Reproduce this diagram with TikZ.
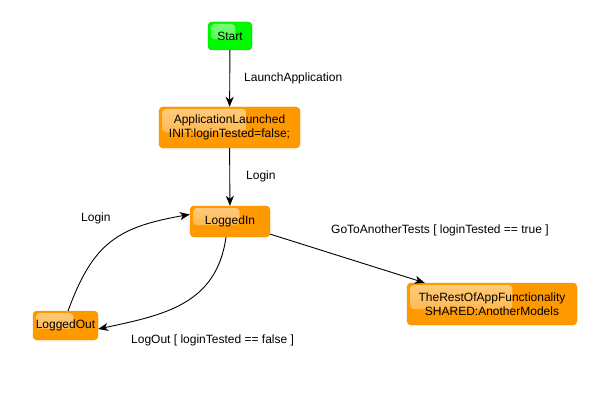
\documentclass[tikz,border=0pt]{standalone}
\usepackage{fontspec}
\setmainfont{Liberation Sans}
\usetikzlibrary{arrows.meta,calc,positioning}
\definecolor{stateorange}{RGB}{255,153,0}
\definecolor{startgreen}{RGB}{0,250,0}
\begin{document}
\begin{tikzpicture}[x=1pt,y=1pt,
state/.style={rounded corners=4pt,fill=stateorange,draw=stateorange!90!black,line width=.4pt,
  align=center,inner sep=0pt,font=\fontsize{12}{14}\selectfont,
  path picture={\shade[top color=white!50!#1,bottom color=white!20!#1,rounded corners=4pt]
    ($(path picture bounding box.north west)+(3pt,-2pt)$) rectangle
    ($(path picture bounding box.north west)!0.62!(path picture bounding box.south east)$);}},
state/.default=stateorange,
lbl/.style={anchor=west,inner sep=0pt,font=\fontsize{12}{14}\selectfont},
trans/.style={-{Stealth[length=10pt,width=8pt,inset=3pt]},line width=.9pt}]
\useasboundingbox (0,0) rectangle (603,416);
\node[state=startgreen,fill=startgreen,draw=green!70!black,minimum width=44pt,minimum height=28pt] (Start) at (230,380) {Start};
\node[state,minimum width=141pt,minimum height=41pt] (AppLaunched) at (229.5,288.5) {ApplicationLaunched\\INIT:loginTested=false;};
\node[state,minimum width=80pt,minimum height=31pt] (LoggedIn) at (230,194.5) {LoggedIn};
\node[state,minimum width=170pt,minimum height=42pt] (RestOfApp) at (492,112) {TheRestOfAppFunctionality\\SHARED:AnotherModels};
\node[state,minimum width=65pt,minimum height=29pt] (LoggedOut) at (65.5,90.5) {LoggedOut};
\node[lbl] (lLaunch) at (244,338) {LaunchApplication};
\node[lbl] (lLogin) at (246,240) {Login};
\node[lbl] (lLoginBack) at (81,198) {Login};
\node[lbl] (lGoTo) at (331,186) {GoToAnotherTests [ loginTested == true ]};
\node[lbl] (lLogOut) at (131,76) {LogOut [ loginTested == false ]};
\draw[trans] (Start)--(AppLaunched);
\draw[trans] (AppLaunched)--(LoggedIn);
\draw[trans] (LoggedIn)--(RestOfApp);
\draw[trans] ([xshift=-4pt]LoggedIn.south) to[out=262,in=12,looseness=1.1] ([yshift=-3.5pt]LoggedOut.east);
\draw[trans] (LoggedOut.80) to[out=70,in=190,looseness=1.2] (LoggedIn.170);
\end{tikzpicture}
\end{document}
